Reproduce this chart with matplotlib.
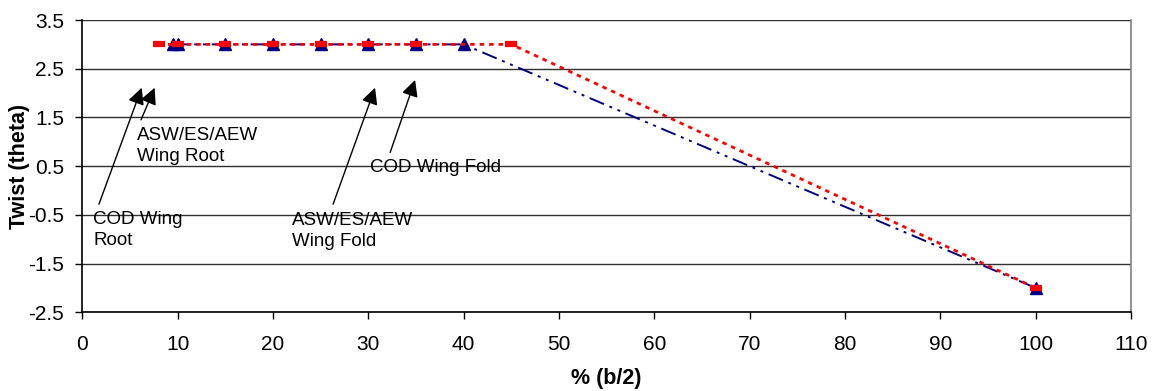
import matplotlib
matplotlib.use("Agg")
import matplotlib.pyplot as plt

plt.rcParams['font.family'] = ['Liberation Sans', 'DejaVu Sans']

# Twist distribution along the semi-span
asw_span = [9.5, 10, 15, 20, 25, 30, 35, 40, 100]
asw_twist = [3, 3, 3, 3, 3, 3, 3, 3, -2]
cod_span = [8, 10, 15, 20, 25, 30, 35, 45, 100]
cod_twist = [3, 3, 3, 3, 3, 3, 3, 3, -2]

x_ticks = [0, 10, 20, 30, 40, 50, 60, 70, 80, 90, 100, 110]
y_ticks = [-2.5, -1.5, -0.5, 0.5, 1.5, 2.5, 3.5]

# Callouts: (text, text anchor, arrow tail, arrow tip)
callouts = [
    ("ASW/ES/AEW\nWing Root", (5.77, 1.31), (6.16, 1.45), (7.59, 2.11)),
    ("COD Wing\nRoot", (1.15, -0.42), (1.75, -0.28), (6.23, 2.11)),
    ("ASW/ES/AEW\nWing Fold", (21.97, -0.45), (26.31, -0.28), (30.71, 2.11)),
    ("COD Wing Fold", (30.19, 0.65), (32.29, 0.78), (34.91, 2.27)),
]

fig = plt.figure(figsize=(11.54, 3.91), dpi=100)
ax = fig.add_axes([0.0713, 0.2013, 0.9088, 0.7475])

ax.plot(asw_span, asw_twist, color='#000080',
        linestyle=(0, (8, 3, 1.5, 3, 1.5, 3)), linewidth=1.4,
        marker='^', markersize=9, markerfacecolor='#000080',
        markeredgecolor='#000080', zorder=3)
ax.plot(cod_span, cod_twist, color='#ff0000', linestyle=(0, (1.6, 1.8)),
        linewidth=2.0, marker='_', markersize=8, markeredgewidth=4.5,
        markeredgecolor='#ff0000', zorder=4)

for text, pos, tail, tip in callouts:
    ax.text(pos[0], pos[1], text, fontsize=13.5, ha='left', va='top',
            linespacing=1.3, zorder=5)
    ax.annotate('', xy=tip, xytext=tail, textcoords='data',
                arrowprops=dict(arrowstyle='-|>,head_length=1.0,head_width=0.5',
                                color='black', lw=1.0, shrinkA=0, shrinkB=0),
                zorder=5)

ax.set_xlim(0, 110)
ax.set_ylim(-2.5, 3.5)
ax.set_xticks(x_ticks)
ax.set_yticks(y_ticks)
ax.set_yticklabels([f"{v:g}" for v in y_ticks])
ax.tick_params(axis='both', direction='out', length=5, width=1, labelsize=15,
               color='black')
ax.tick_params(axis='x', pad=11)
ax.tick_params(axis='y', pad=8)
ax.yaxis.grid(True, color='#303030', linewidth=1)
ax.set_axisbelow(True)
ax.spines['top'].set_visible(False)
ax.spines['right'].set_color('#808080')
ax.spines['right'].set_linewidth(1.2)
for s in ['left', 'bottom']:
    ax.spines[s].set_color('black')
    ax.spines[s].set_linewidth(1.2)

ax.set_xlabel("% (b/2)", fontsize=15.5, fontweight='bold')
ax.set_ylabel("Twist (theta)", fontsize=15.5, fontweight='bold')
ax.xaxis.set_label_coords(0.5, -0.192)
ax.yaxis.set_label_coords(-0.05, 0.5)

fig.savefig("out.png", dpi=100)
